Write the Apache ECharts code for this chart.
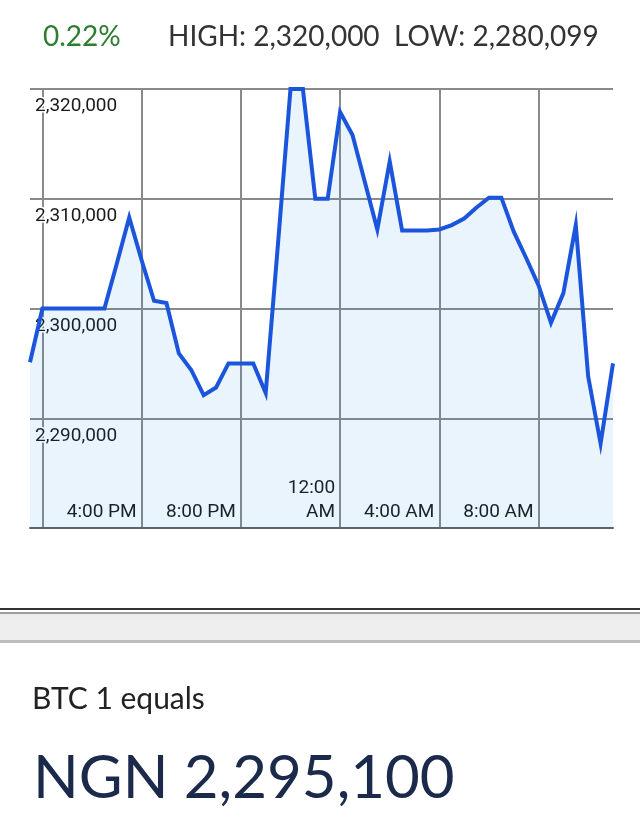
<!DOCTYPE html>
<html>
<head>
<meta charset="utf-8">
<script src="https://cdn.jsdelivr.net/npm/echarts/dist/echarts.min.js"></script>
<style>
  html, body { margin: 0; padding: 0; background: #ffffff; }
  #chart { width: 640px; height: 833px; }
</style>
</head>
<body>
<div id="chart"></div>
<script>
// ---- data ----
const times = ['11:30 AM','12:00 PM','12:30 PM','1:00 PM','1:30 PM','2:00 PM','2:30 PM','3:00 PM','3:30 PM','4:00 PM',
  '4:30 PM','5:00 PM','5:30 PM','6:00 PM','6:30 PM','7:00 PM','7:30 PM','8:00 PM','8:30 PM','9:00 PM',
  '9:30 PM','10:00 PM','10:30 PM','11:00 PM','11:30 PM','12:00 AM','12:30 AM','1:00 AM','1:30 AM','2:00 AM',
  '2:30 AM','3:00 AM','3:30 AM','4:00 AM','4:30 AM','5:00 AM','5:30 AM','6:00 AM','6:30 AM','7:00 AM',
  '7:30 AM','8:00 AM','8:30 AM','9:00 AM','9:30 AM','10:00 AM','10:30 AM','11:00 AM'];
const prices = [2295100, 2300000, 2300000, 2300000, 2300000, 2300000, 2300000, 2304100, 2308300, 2304400,
  2300700, 2300500, 2295900, 2294400, 2292100, 2292800, 2295000, 2295000, 2295000, 2292300,
  2306000, 2320000, 2320000, 2310000, 2310000, 2317900, 2315800, 2311500, 2307200, 2313400,
  2307100, 2307100, 2307100, 2307200, 2307600, 2308200, 2309200, 2310100, 2310100, 2307000,
  2304600, 2302100, 2298700, 2301400, 2307600, 2293800, 2287700, 2295000];
const gridTimes = ['12:00 PM','4:00 PM','8:00 PM','12:00 AM','4:00 AM','8:00 AM'];
const labelTimes = ['4:00 PM','8:00 PM','12:00 AM','4:00 AM','8:00 AM'];
const yMin = 2280000, yMax = 2320000, yStep = 10000;
const changeText = '0.22%';
const highLowText = 'HIGH: 2,320,000  LOW: 2,280,099';
const baseText = 'BTC 1 equals';
const quoteText = 'NGN 2,295,100';

const fmt = v => String(v).replace(/\B(?=(\d{3})+(?!\d))/g, ',');

const chart = echarts.init(document.getElementById('chart'), null, { renderer: 'canvas' });
chart.setOption({
  backgroundColor: '#ffffff',
  animation: false,
  grid: { left: 30, right: 27, top: 89, bottom: 305, containLabel: false },
  xAxis: {
    type: 'category',
    data: times,
    boundaryGap: false,
    axisLine: { show: true, lineStyle: { color: '#5a646e', width: 2 } },
    axisTick: { show: false },
    axisLabel: {
      inside: true,
      interval: (i, v) => labelTimes.indexOf(v) >= 0,
      formatter: v => v === '12:00 AM' ? '12:00\nAM' : v,
      align: 'right',
      verticalAlign: 'bottom',
      margin: 4,
      padding: [0, 5, 0, 0],
      color: '#1a1a1a',
      fontFamily: 'Roboto',
      fontSize: 19,
      lineHeight: 24,
      textBorderColor: '#ffffff',
      textBorderWidth: 3
    },
    splitLine: {
      show: true,
      interval: (i, v) => gridTimes.indexOf(v) >= 0,
      lineStyle: { color: '#8a8a8a', width: 2 }
    }
  },
  yAxis: {
    type: 'value',
    min: yMin, max: yMax, interval: yStep,
    axisLine: { show: false },
    axisTick: { show: false },
    axisLabel: {
      inside: true,
      margin: 5,
      align: 'left',
      verticalAlign: 'top',
      padding: [8, 0, 0, 0],
      formatter: v => v === yMin ? '' : fmt(v),
      color: '#1a1a1a',
      fontFamily: 'Roboto',
      fontSize: 19,
      textBorderColor: '#ffffff',
      textBorderWidth: 3
    },
    splitLine: { show: true, lineStyle: { color: '#8a8a8a', width: 2 } }
  },
  series: [{
    type: 'line',
    data: prices,
    symbol: 'none',
    lineStyle: { color: '#1b55dc', width: 4, join: 'miter' },
    areaStyle: { color: 'rgba(0,130,230,0.12)' },
    z: 3
  }],
  graphic: [
    { type: 'text', left: 43, top: 23, style: { text: changeText, fill: '#2e7d32', font: '28px Lato' } },
    { type: 'text', left: 168, top: 23, style: { text: highLowText, fill: '#333333', font: '28px Lato' } },
    { type: 'rect', shape: { x: 0, y: 608, width: 640, height: 2 }, style: { fill: '#333333' } },
    { type: 'rect', shape: { x: 0, y: 612, width: 640, height: 2 }, style: { fill: '#9e9e9e' } },
    { type: 'rect', shape: { x: 0, y: 614, width: 640, height: 26 }, style: { fill: '#eeeeee' } },
    { type: 'rect', shape: { x: 0, y: 640, width: 640, height: 3 }, style: { fill: '#bdbdbd' } },
    { type: 'text', left: 32, top: 684, style: { text: baseText, fill: '#222222', font: '30px Lato' } },
    { type: 'text', left: 33, top: 749, style: { text: quoteText, fill: '#1b2a4a', font: '60px Lato' } }
  ]
});
</script>
</body>
</html>
